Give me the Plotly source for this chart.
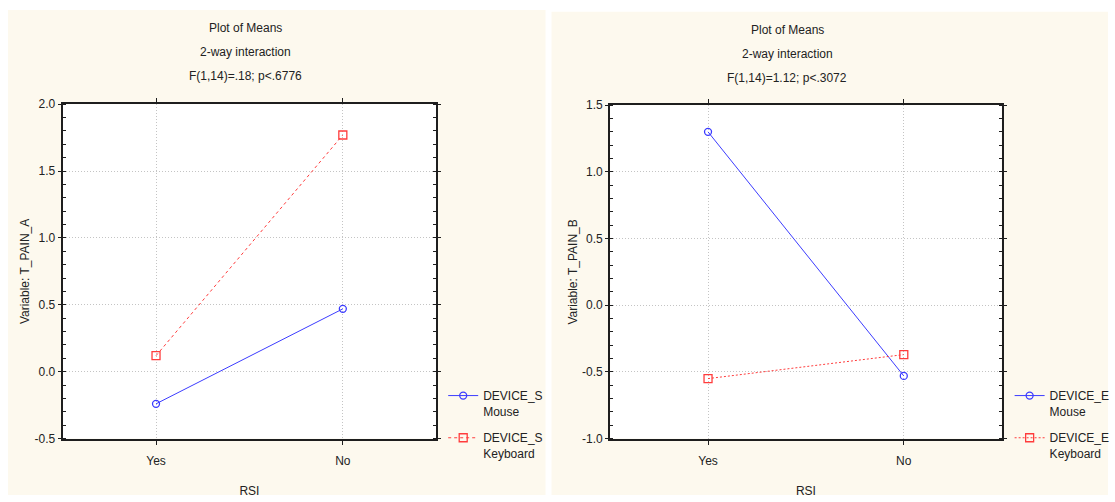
import plotly.graph_objects as go

# Plot of means for two 2-way interactions (RSI x device)
rsi_levels = ["Yes", "No"]

pain_a_mouse = [-0.24, 0.47]
pain_a_keyboard = [0.12, 1.77]

pain_b_mouse = [1.30, -0.53]
pain_b_keyboard = [-0.55, -0.37]

ticks_a = [-0.5, 0.0, 0.5, 1.0, 1.5, 2.0]
tick_labels_a = ["-0.5", "0.0", "0.5", "1.0", "1.5", "2.0"]
ticks_b = [-1.0, -0.5, 0.0, 0.5, 1.0, 1.5]
tick_labels_b = ["-1.0", "-0.5", "0.0", "0.5", "1.0", "1.5"]

title_a = ["Plot of Means", "2-way interaction", "F(1,14)=.18; p<.6776"]
title_b = ["Plot of Means", "2-way interaction", "F(1,14)=1.12; p<.3072"]

W, H = 1115, 502
CREAM = "#fdf9ee"
BLUE = "#3c3cff"
RED = "#ff3c3c"
INK = "#222222"
FONT = "Liberation Sans, Arial, sans-serif"


def px_x(p):
    return p / W


def px_y(p):
    return 1 - p / H


fig = go.Figure()

series = [
    (pain_a_mouse, "DEVICE_S<br>Mouse", "x", "y", "legend", BLUE, "solid", "circle-open"),
    (pain_a_keyboard, "DEVICE_S<br>Keyboard", "x", "y", "legend", RED, "3px,3px", "square-open"),
    (pain_b_mouse, "DEVICE_E<br>Mouse", "x2", "y2", "legend2", BLUE, "solid", "circle-open"),
    (pain_b_keyboard, "DEVICE_E<br>Keyboard", "x2", "y2", "legend2", RED, "2px,2px", "square-open"),
]
for vals, name, xa, ya, lg, color, dash, symbol in series:
    fig.add_trace(go.Scatter(
        x=rsi_levels, y=vals, name=name, legendgroup=name,
        mode="lines+markers", xaxis=xa, yaxis=ya, legend=lg,
        line=dict(color=color, width=1, dash=dash),
        marker=dict(symbol=symbol, size=7 if "circle" in symbol else 8,
                    color=color, line=dict(width=1.3)),
    ))

common_x = dict(
    type="category", range=[-0.5, 1.5],
    showline=True, linecolor="#1e1e1e", linewidth=2, mirror="ticks",
    ticks="outside", ticklen=4, tickcolor="#1e1e1e", ticklabelstandoff=6,
    showgrid=True, gridcolor="#c4c4c4", griddash="1px,2px", gridwidth=1,
    zeroline=False, tickfont=dict(family=FONT, size=12, color=INK),
    title=dict(text="RSI", font=dict(family=FONT, size=12, color=INK), standoff=20),
    fixedrange=True,
)
common_y = dict(
    tickmode="array",
    showline=True, linecolor="#1e1e1e", linewidth=2, mirror="ticks",
    ticks="outside", ticklen=3, tickcolor="#1e1e1e",
    minor=dict(dtick=0.1, ticks="inside", ticklen=3, tickcolor="#1e1e1e", showgrid=False),
    showgrid=True, gridcolor="#c4c4c4", griddash="1px,2px", gridwidth=1,
    zeroline=False, tickfont=dict(family=FONT, size=12, color=INK),
    fixedrange=True,
)

fig.update_layout(
    width=W, height=H,
    margin=dict(l=0, r=0, t=0, b=0),
    paper_bgcolor="white", plot_bgcolor="white",
    showlegend=True,
    xaxis=dict(common_x, domain=[px_x(63), px_x(439)], anchor="y"),
    yaxis=dict(common_y, domain=[px_y(444), px_y(100)], anchor="x", range=[-0.5, 2.0],
               tickvals=ticks_a, ticktext=tick_labels_a,
               title=dict(text="Variable: T_PAIN_A",
                          font=dict(family=FONT, size=12, color=INK), standoff=2)),
    xaxis2=dict(common_x, domain=[px_x(614), px_x(1008)], anchor="y2"),
    yaxis2=dict(common_y, domain=[px_y(444), px_y(101)], anchor="x2", range=[-1.0, 1.5],
                tickvals=ticks_b, ticktext=tick_labels_b,
                title=dict(text="Variable: T_PAIN_B",
                           font=dict(family=FONT, size=12, color=INK), standoff=2)),
    legend=dict(x=px_x(446), y=px_y(385), xanchor="left", yanchor="top",
                bgcolor="rgba(0,0,0,0)", valign="top", tracegroupgap=8,
                font=dict(family=FONT, size=12, color=INK)),
    legend2=dict(x=px_x(1016), y=px_y(385), xanchor="left", yanchor="top",
                 bgcolor="rgba(0,0,0,0)", valign="top", tracegroupgap=8,
                 font=dict(family=FONT, size=12, color=INK)),
)

# cream panel backgrounds, then white plotting areas on top of them
fig.add_shape(type="rect", xref="paper", yref="paper", layer="below",
              x0=px_x(8), x1=px_x(549), y0=0, y1=px_y(3),
              fillcolor=CREAM, line=dict(width=0))
fig.add_shape(type="rect", xref="paper", yref="paper", layer="below",
              x0=px_x(555), x1=1, y0=0, y1=px_y(5),
              fillcolor=CREAM, line=dict(width=0))
for xr, yr in (("x domain", "y domain"), ("x2 domain", "y2 domain")):
    fig.add_shape(type="rect", xref=xr, yref=yr, layer="below",
                  x0=0, x1=1, y0=0, y1=1, fillcolor="white", line=dict(width=0))

# three-line titles
for lines, cx, ys in ((title_a, 247, (22, 46, 71)), (title_b, 792, (24, 48, 73))):
    for text, yy in zip(lines, ys):
        fig.add_annotation(text=text, xref="paper", yref="paper",
                           x=px_x(cx), y=px_y(yy), xanchor="center", yanchor="middle",
                           showarrow=False,
                           font=dict(family=FONT, size=12, color=INK))

fig.write_html("out.html")
